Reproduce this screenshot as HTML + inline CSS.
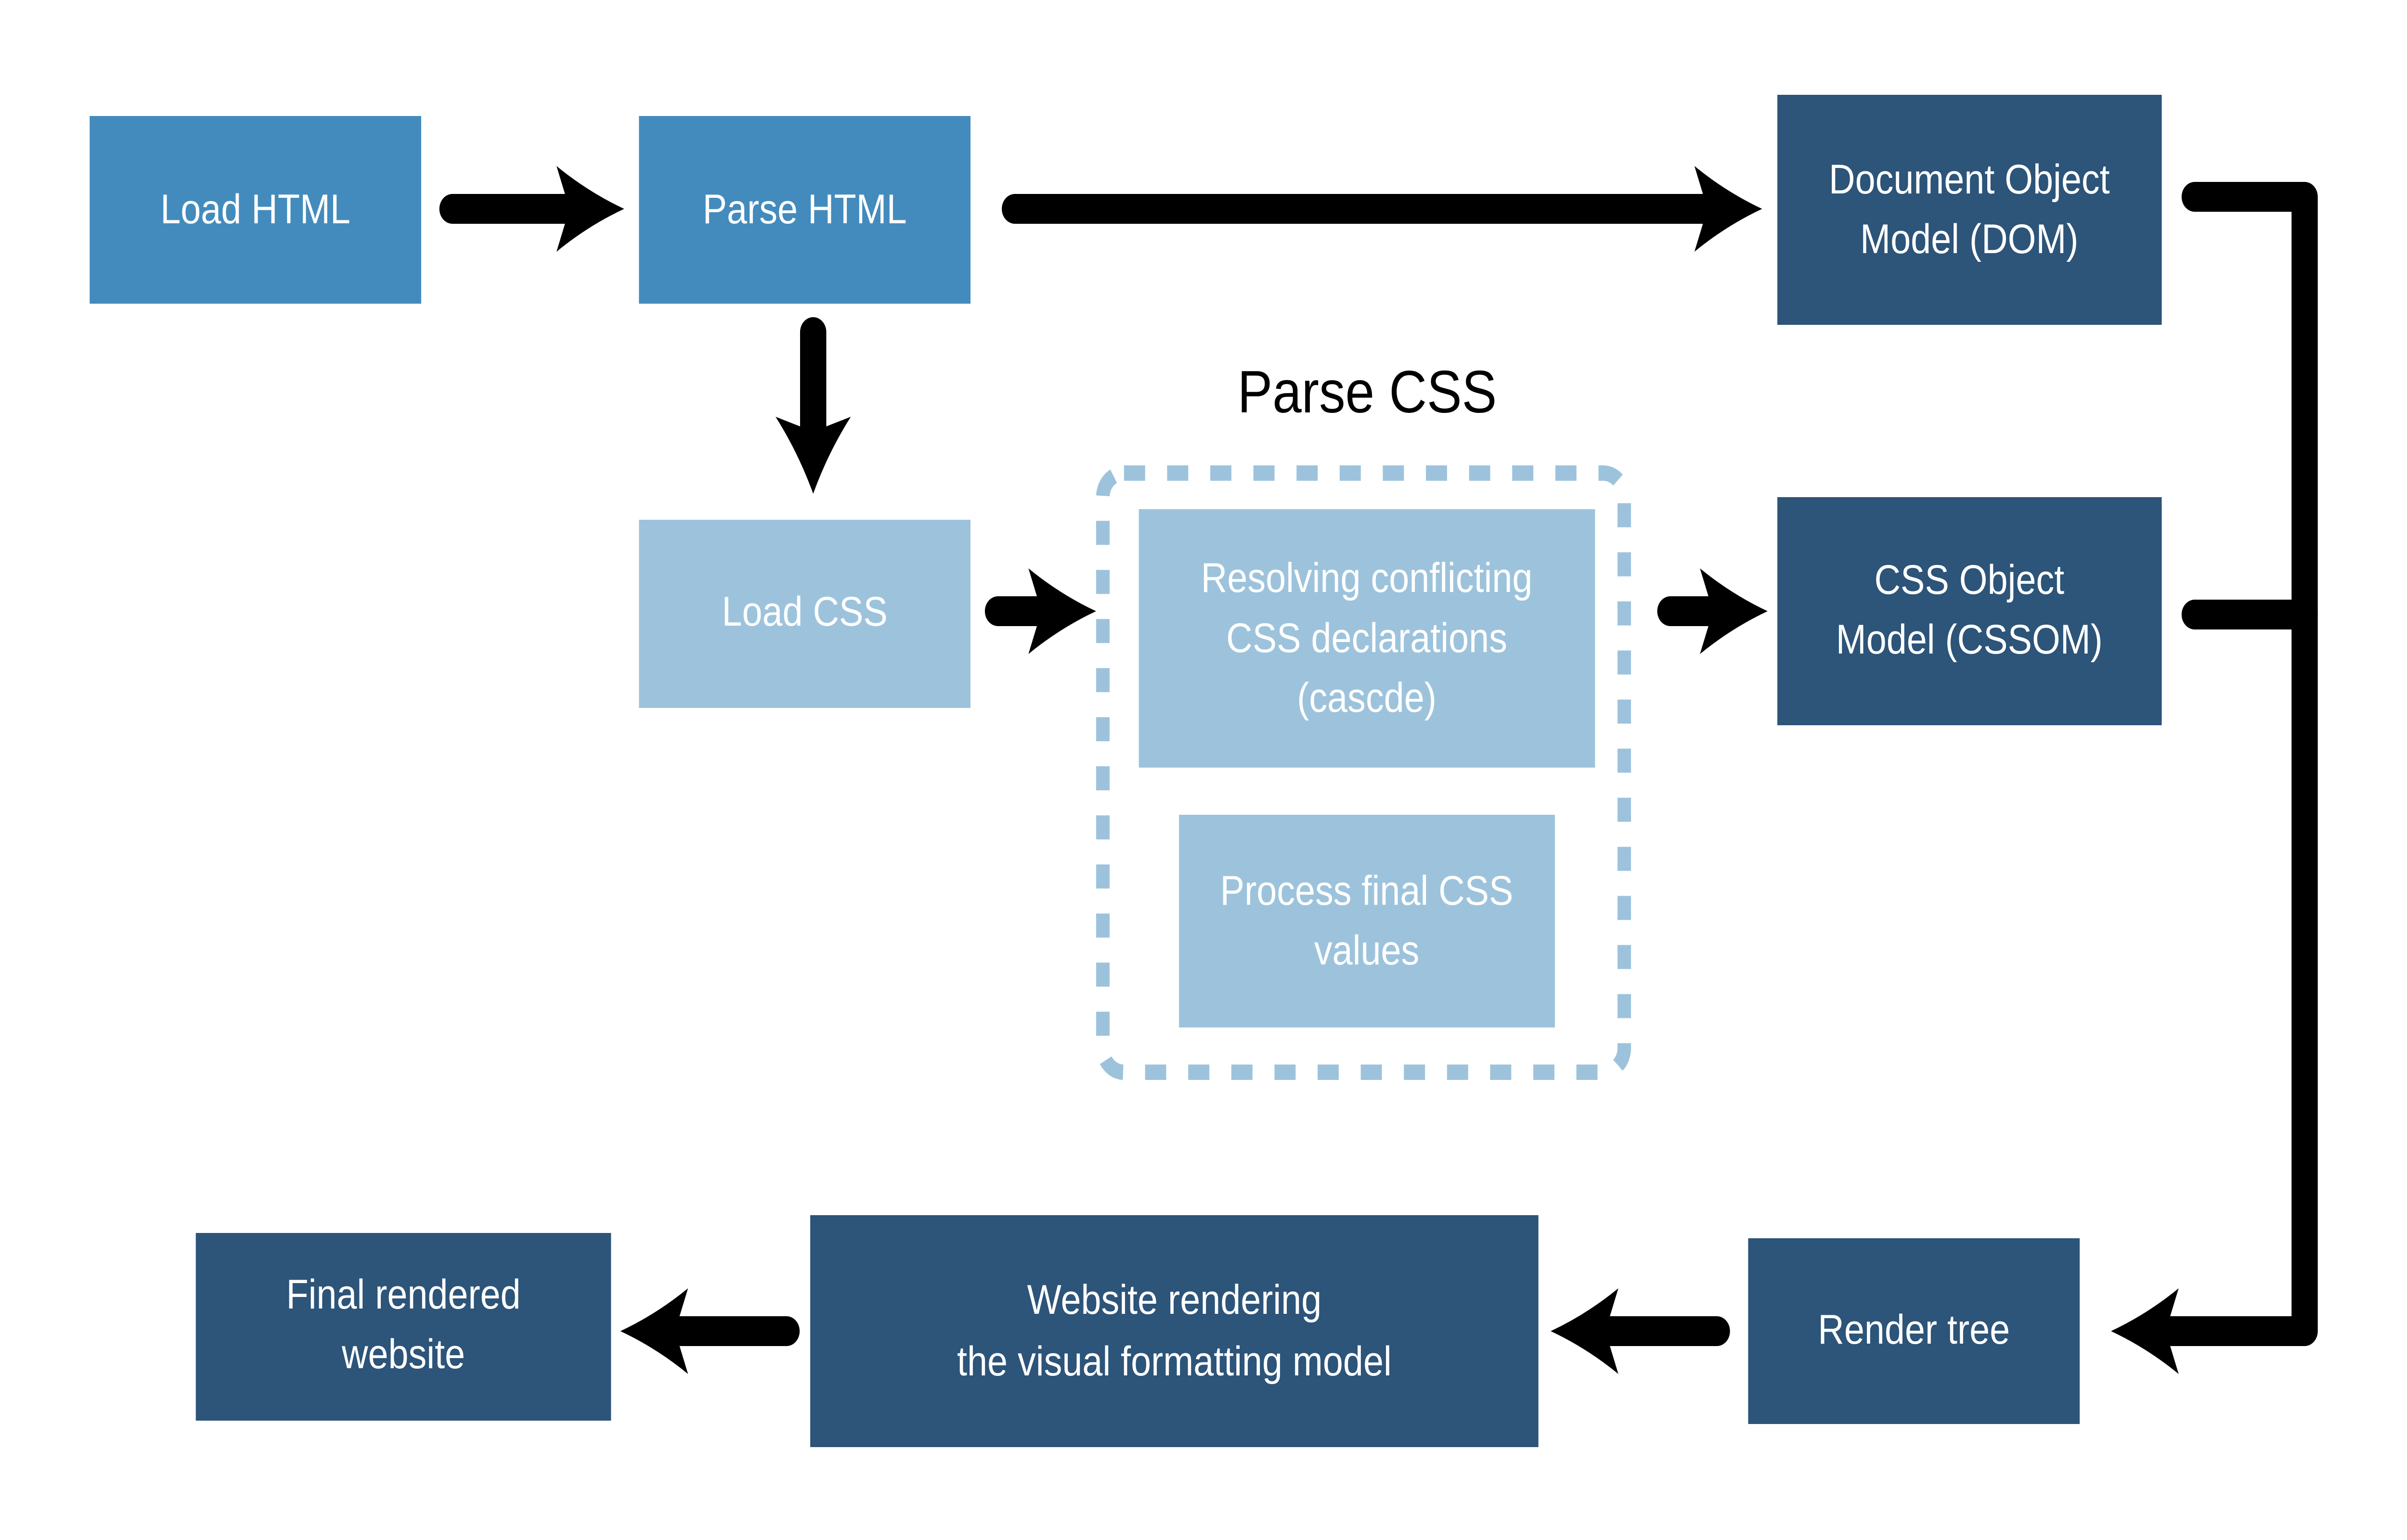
<!DOCTYPE html>
<html><head><meta charset="utf-8"><style>
html,body{margin:0;padding:0;background:#fff;overflow:hidden;width:100%;height:100%;}
svg{display:block;position:absolute;left:0;top:0;width:100vw;height:100vh;}
text{font-family:"Liberation Sans",sans-serif;fill:#fff;text-anchor:middle;font-size:86px;}
</style></head><body>
<svg viewBox="0 0 5692 3200" preserveAspectRatio="none" xmlns="http://www.w3.org/2000/svg">
<defs>
<path id="ah" d="M0 0 Q-85 -35 -160 -89 L-140 -31 L-140 31 L-160 89 Q-85 35 0 0 Z" fill="#000"/>
</defs>
<rect width="5692" height="3200" fill="#fff"/>
<rect x="212" y="241" width="784" height="390" fill="#438bbd"/>
<rect x="1511" y="241" width="784" height="390" fill="#438bbd"/>
<rect x="4203" y="197" width="909" height="478" fill="#2d5479"/>
<rect x="1511" y="1080" width="784" height="391" fill="#9dc3dc"/>
<rect x="4203" y="1033" width="909" height="474" fill="#2d5479"/>
<rect x="463" y="2562" width="982" height="390" fill="#2d5479"/>
<rect x="1916" y="2525" width="1722" height="482" fill="#2d5479"/>
<rect x="4134" y="2573" width="784" height="386" fill="#2d5479"/>
<rect x="2608" y="983" width="1233" height="1245" rx="50" fill="none" stroke="#9dc3dc" stroke-width="32" stroke-dasharray="50 52"/>
<rect x="2693" y="1058" width="1079" height="537" fill="#9dc3dc"/>
<rect x="2788" y="1693" width="889" height="442" fill="#9dc3dc"/>
<g stroke="#000" stroke-width="62" stroke-linecap="round" fill="none">
<line x1="1070" y1="434" x2="1360" y2="434"/>
<line x1="2400" y1="434" x2="4050" y2="434"/>
<line x1="1923" y1="690" x2="1923" y2="900"/>
<line x1="2360" y1="1270" x2="2480" y2="1270"/>
<line x1="3950" y1="1270" x2="4060" y2="1270"/>
<path d="M5190 409 H5450 V2766 H5110" stroke-linejoin="round"/>
<line x1="5190" y1="1277" x2="5450" y2="1277"/>
<line x1="4060" y1="2766" x2="3790" y2="2766"/>
<line x1="1860" y1="2766" x2="1590" y2="2766"/>
</g>
<use href="#ah" transform="translate(1476,434)"/>
<use href="#ah" transform="translate(4167,434)"/>
<use href="#ah" transform="translate(1923,1026) rotate(90)"/>
<use href="#ah" transform="translate(2592,1270)"/>
<use href="#ah" transform="translate(4180,1270)"/>
<use href="#ah" transform="translate(4992,2766) rotate(180)"/>
<use href="#ah" transform="translate(3667,2766) rotate(180)"/>
<use href="#ah" transform="translate(1467,2766) rotate(180)"/>
<text x="3233" y="857" style="fill:#000;font-size:124px">Parse CSS</text>
<text x="604" y="464">Load HTML</text>
<text x="1903" y="464">Parse HTML</text>
<text x="4657" y="402">Document Object</text>
<text x="4657" y="526">Model (DOM)</text>
<text x="1903" y="1300">Load CSS</text>
<text x="4657" y="1234">CSS Object</text>
<text x="4657" y="1358">Model (CSSOM)</text>
<text x="3232" y="1230">Resolving conflicting</text>
<text x="3232" y="1355">CSS declarations</text>
<text x="3232" y="1479">(cascde)</text>
<text x="3232" y="1880">Process final CSS</text>
<text x="3232" y="2004">values</text>
<text x="954" y="2719">Final rendered</text>
<text x="954" y="2843">website</text>
<text x="2777" y="2730">Website rendering</text>
<text x="2777" y="2858">the visual formatting model</text>
<text x="4526" y="2792">Render tree</text>
</svg>
</body></html>
